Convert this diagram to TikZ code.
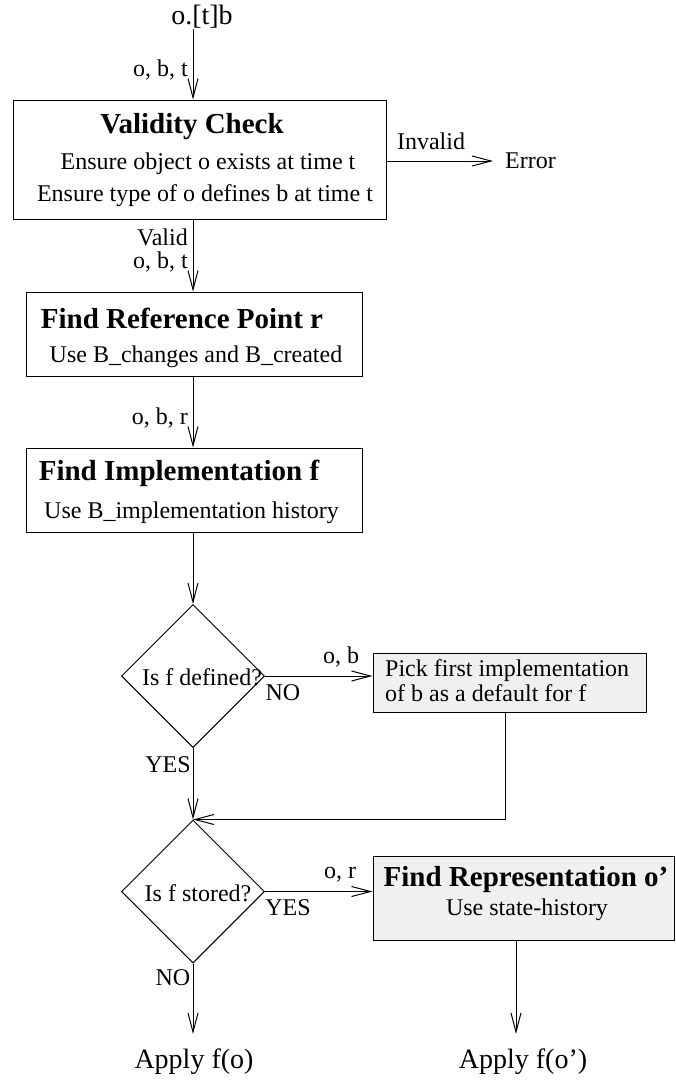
\documentclass[tikz,border=0pt]{standalone}
\usepackage{fontspec}
\setmainfont{Liberation Serif}
\usetikzlibrary{arrows.meta,shapes.geometric}
\tikzset{
  boxw/.style={draw, line width=1pt, inner sep=0, rectangle},
  grayb/.style={boxw, fill=black!6},
  dia/.style={draw, line width=1pt, diamond, inner sep=0, minimum width=143pt, minimum height=143pt, shape aspect=1},
  txt/.style={inner sep=0, font=\fontsize{24}{25}\selectfont},
  big/.style={inner sep=0, font=\fontsize{28}{30}\selectfont},
  ttl/.style={inner sep=0, font=\fontsize{29}{31}\selectfont\bfseries},
  arr/.style={-{Straight Barb[length=19pt,width=10pt]}, line width=1pt},
}
\begin{document}
\begin{tikzpicture}[x=1pt,y=-1pt]
\useasboundingbox (0,0) rectangle (676,1080);
\coordinate (cx) at (193,0);
\coordinate (rx) at (505,0);
\coordinate (fx) at (516,0);

% start
\node[big] (start) at (202,17) {o.[t]b};
\node[txt, anchor=east] (l1) at (188,70) {o, b, t};

% validity check
\node[boxw, minimum width=373pt, minimum height=119pt] (vc) at (199.5,159.5) {};
\node[ttl] (vct) at (192,127) {Validity Check};
\node[txt] (vc1) at (208,164) {Ensure object o exists at time t};
\node[txt] (vc2) at (205,196) {Ensure type of o defines b at time t};
\draw[arr] (start.south -| cx) -- (vc.north -| cx);

\node[txt] (inv) at (431,141) {Invalid};
\node[txt, anchor=west] (err) at (505,161) {Error};
\draw[arr, shorten >=12pt] (vc.east |- err.west) -- (err.west);

% find reference point
\node[boxw, minimum width=336pt, minimum height=84pt] (frp) at (194,334) {};
\node[ttl] (frpt) at (182,318) {Find Reference Point r};
\node[txt] (frps) at (196,357) {Use B\_changes and B\_created};
\draw[arr] (vc.south -| cx) -- (frp.north -| cx);
\node[txt, anchor=east] (lv) at (188,237) {Valid};
\node[txt, anchor=east] (l2) at (188,262) {o, b, t};

% find implementation
\node[boxw, minimum width=336pt, minimum height=84pt] (fi) at (194,490) {};
\node[ttl] (fit) at (179,473) {Find Implementation f};
\node[txt] (fis) at (191.5,513) {Use B\_implementation history};
\draw[arr] (frp.south -| cx) -- (fi.north -| cx);
\node[txt, anchor=east] (l3) at (188,418) {o, b, r};

% decision 1
\node[dia] (d1) at (193,676) {};
\node[txt] (d1t) at (202,677) {Is f defined?};
\draw[arr] (fi.south -| cx) -- (d1.north);

\node[grayb, minimum width=273pt, minimum height=59pt] (pick) at (509.5,682.5) {};
\node[txt, anchor=west, align=left] (pickt) at (385,680.5) {Pick first implementation\\of b as a default for f};
\draw[arr] (d1.east) -- (d1.east -| pick.west);
\node[txt] (l4) at (341,657) {o, b};
\node[txt] (no1) at (283,693) {NO};
\node[txt] (yes1) at (168,765) {YES};

% decision 2
\node[dia] (d2) at (193,891.5) {};
\node[txt] (d2t) at (198,893) {Is f stored?};
\draw[arr] (d1.south) -- (d2.north);
\draw[arr] (pick.south -| rx) |- (d2.north);

\node[grayb, minimum width=301pt, minimum height=84pt] (frep) at (523.5,898) {};
\node[ttl] (frept) at (526,880) {Find Representation o'};
\node[txt] (freps) at (527,910) {Use state-history};
\draw[arr] (d2.east) -- (d2.east -| frep.west);
\node[txt] (l5) at (340,875) {o, r};
\node[txt] (yes2) at (288,908) {YES};
\node[txt] (no2) at (173,978) {NO};

% results
\node[big] (ap1) at (194,1062) {Apply f(o)};
\node[big] (ap2) at (523,1062) {Apply f(o')};
\draw[arr, shorten >=15pt] (d2.south) -- (d2.south |- ap1.north);
\draw[arr, shorten >=15pt] (frep.south -| fx) -- (fx |- ap2.north);
\end{tikzpicture}
\end{document}
